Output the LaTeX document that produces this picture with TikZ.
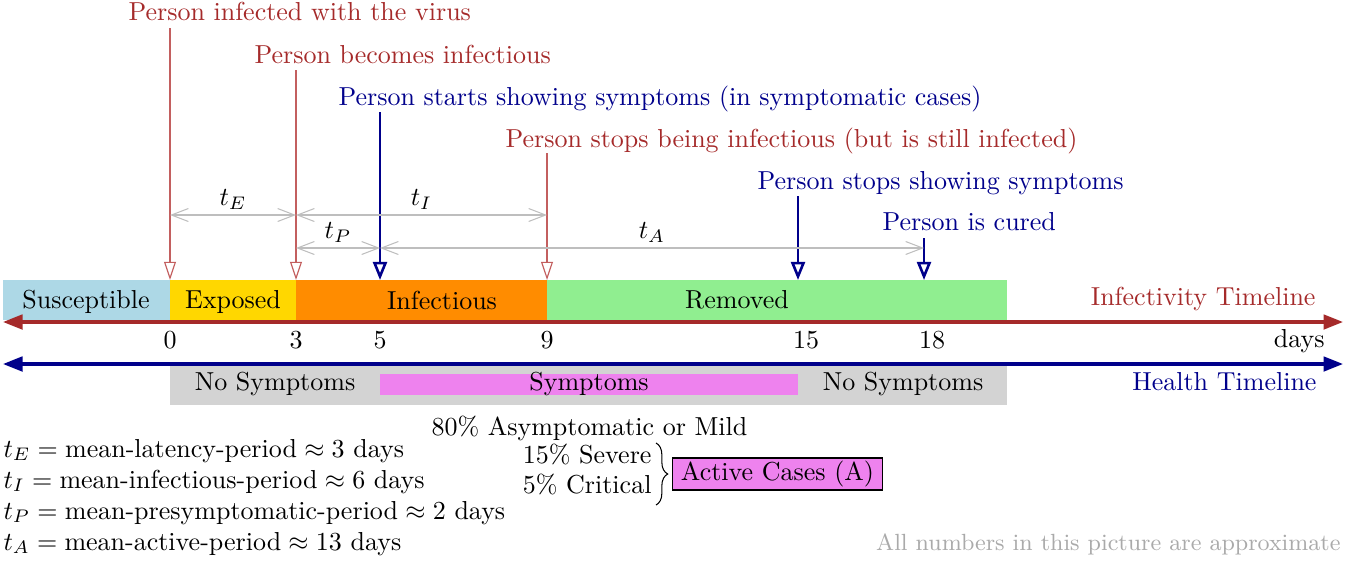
\documentclass[tikz,border=0pt]{standalone}
\usetikzlibrary{arrows.meta,decorations.pathreplacing}
\definecolor{infred}{RGB}{165,42,42}
\definecolor{infredline}{RGB}{195,95,95}
\definecolor{hblue}{RGB}{0,0,139}
\definecolor{cSus}{RGB}{173,216,230}
\definecolor{cExp}{RGB}{255,215,0}
\definecolor{cInf}{RGB}{255,140,0}
\definecolor{cRem}{RGB}{144,238,144}
\definecolor{cGray}{RGB}{211,211,211}
\definecolor{cViolet}{RGB}{238,130,238}
\definecolor{dimgrayc}{RGB}{190,190,190}
\definecolor{notegray}{RGB}{170,170,170}
\begin{document}
\begin{tikzpicture}[x=0.3846pt,y=-0.3846pt,
  lbl/.style={inner sep=0pt,anchor=base west},
  redlbl/.style={lbl,text=infred},
  bluelbl/.style={lbl,text=hblue},
  redarrow/.style={draw=infredline,line width=0.45pt,-{Triangle[open,length=7pt,width=4.6pt]}},
  bluearrow/.style={draw=hblue,line width=1pt,-{Triangle[open,length=7pt,width=5.4pt]}},
  dimline/.style={draw=dimgrayc,line width=0.4pt,{Straight Barb[length=6.5pt,width=5pt]}-{Straight Barb[length=6.5pt,width=5pt]}},
  dimlbl/.style={above,inner sep=2pt},
  timeline/.style={line width=1.2pt,{Triangle[length=7.5pt,width=5.6pt]}-{Triangle[length=7.5pt,width=5.6pt]}},
  barlbl/.style={anchor=base,inner sep=0pt},
  daylbl/.style={anchor=base,inner sep=0pt}]
\useasboundingbox (0,0) rectangle (1346,560);

% state bars
\fill[cSus] (3,280) rectangle (170,320);
\fill[cExp] (170,280) rectangle (296,320);
\fill[cInf] (296,280) rectangle (547,320);
\fill[cRem] (547,280) rectangle (1007,320);
\node[barlbl] (tsus) at (86,308) {Susceptible};
\node[barlbl] (texp) at (233,308) {Exposed};
\node[barlbl] (tinf) at (442,309) {Infectious};
\node[barlbl] (trem) at (737,308) {Removed};

% symptom bars
\fill[cGray] (170,366) rectangle (1007,405);
\fill[cViolet] (380,374) rectangle (798,395);
\node[barlbl] (ns1) at (275,390) {No Symptoms};
\node[barlbl] (sym) at (589,390) {Symptoms};
\node[barlbl] (ns2) at (903,390) {No Symptoms};

% arrow end points on top of the bar
\coordinate (d0) at (170,280);
\coordinate (d3) at (296,280);
\coordinate (d5) at (380,280);
\coordinate (d9) at (547,280);
\coordinate (d15) at (798,280);
\coordinate (d18) at (924,280);

% event labels
\node[redlbl] (e1) at (128,21) {Person infected with the virus};
\node[redlbl] (e2) at (254,63) {Person becomes infectious};
\node[bluelbl] (e3) at (338,105) {Person starts showing symptoms (in symptomatic cases)};
\node[redlbl] (e4) at (505,147) {Person stops being infectious (but is still infected)};
\node[bluelbl] (e5) at (757,189) {Person stops showing symptoms};
\node[bluelbl] (e6) at (882,230) {Person is cured};

\coordinate (s1) at (170,28);
\coordinate (s2) at (296,70);
\coordinate (s3) at (380,112);
\coordinate (s4) at (547,153);
\coordinate (s5) at (798,196);
\coordinate (s6) at (924,238);

\draw[redarrow] (s1) -- (d0);
\draw[redarrow] (s2) -- (d3);
\draw[bluearrow] (s3) -- (d5);
\draw[redarrow] (s4) -- (d9);
\draw[bluearrow] (s5) -- (d15);
\draw[bluearrow] (s6) -- (d18);

% period dimensions
\coordinate (pE0) at (170,215);
\coordinate (pE1) at (296,215);
\coordinate (pI1) at (547,215);
\coordinate (pP0) at (296,248);
\coordinate (pP1) at (380,248);
\coordinate (pA1) at (924,248);
\draw[dimline] (pE0) -- node[dimlbl] (tE) {$t_E$} (pE1);
\draw[dimline] (pE1) -- node[dimlbl] (tI) {$t_I$} (pI1);
\draw[dimline] (pP0) -- node[dimlbl] (tP) {$t_P$} (pP1);
\draw[dimline] (pP1) -- node[dimlbl] (tA) {$t_A$} (pA1);

% timelines
\coordinate (il0) at (3,322);
\coordinate (il1) at (1343,322);
\coordinate (hl0) at (3,364);
\coordinate (hl1) at (1343,364);
\draw[timeline,infred] (il0) -- (il1);
\draw[timeline,hblue] (hl0) -- (hl1);
\node[inner sep=0pt,anchor=base east,text=infred] (inftl) at (1316,305) {Infectivity Timeline};
\node[inner sep=0pt,anchor=base east,text=hblue] (healthtl) at (1317,390) {Health Timeline};
\node[inner sep=0pt,anchor=base east] (days) at (1325,347) {days};

% day numbers
\node[daylbl] (n0) at (170,348) {0};
\node[daylbl] (n3) at (296,348) {3};
\node[daylbl] (n5) at (380,348) {5};
\node[daylbl] (n9) at (547,348) {9};
\node[daylbl] (n15) at (806,348) {15};
\node[daylbl] (n18) at (932,348) {18};

% severity
\node[lbl] (p80) at (431,435) {80\% Asymptomatic or Mild};
\node[inner sep=0pt,anchor=base east] (p15) at (652,463) {15\% Severe};
\node[inner sep=0pt,anchor=base east] (p5) at (652,493) {5\% Critical};
\coordinate (br0) at (656,443);
\coordinate (br1) at (656,505);
\draw[decorate,decoration={brace,amplitude=4.5pt}] (br0) -- (br1);
\node[draw=black,line width=0.4pt,fill=cViolet,minimum width=80.5pt,minimum height=12.3pt,inner sep=1pt] (active) at (777.5,474) {Active Cases (A)};

% legend
\node[lbl] (lE) at (3,457) {$t_E = \mbox{mean-latency-period} \approx 3\mbox{ days}$};
\node[lbl] (lI) at (3,488) {$t_I = \mbox{mean-infectious-period} \approx 6\mbox{ days}$};
\node[lbl] (lP) at (3,519) {$t_P = \mbox{mean-presymptomatic-period} \approx 2\mbox{ days}$};
\node[lbl] (lA) at (3,550) {$t_A = \mbox{mean-active-period} \approx 13\mbox{ days}$};

\node[inner sep=0pt,anchor=base east,text=notegray,font=\small] (note) at (1341,550) {All numbers in this picture are approximate};
\end{tikzpicture}
\end{document}
